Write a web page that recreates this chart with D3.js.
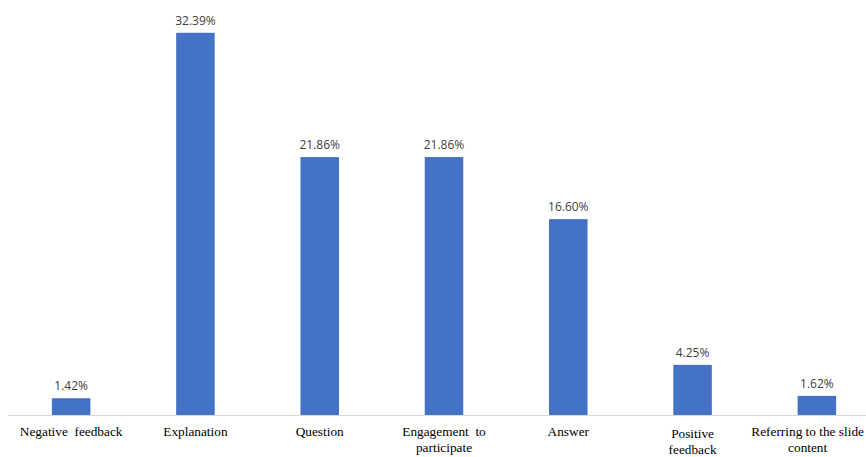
<!DOCTYPE html>
<html>
<head>
<meta charset="utf-8">
<script src="https://cdn.jsdelivr.net/npm/d3@7"></script>
<style>
    body { margin: 0; background: #fff; }
    svg { display: block; }
    .cat { font-family: 'Liberation Serif', 'Times New Roman', serif; }
    .value { font-family: 'Open Sans', sans-serif; }
</style>
</head>
<body>
<script>
"use strict";

var categories = [
    ['Negative  feedback'],
    ['Explanation'],
    ['Question'],
    ['Engagement  to', 'participate'],
    ['Answer'],
    ['Positive', 'feedback'],
    ['Referring to the slide', 'content']
];
var values = [1.42, 32.39, 21.86, 21.86, 16.60, 4.25, 1.62];

var width = 866, height = 457;
var baseline = 415;

var svg = d3.select('body').append('svg')
    .attr('width', width)
    .attr('height', height);

var x = d3.scaleBand()
    .domain(d3.range(categories.length))
    .range([9, 879])
    .paddingInner(0.69)
    .paddingOuter(0.345);

var y = d3.scaleLinear()
    .domain([0, 35])
    .range([baseline, 2]);

// baseline
svg.append('line')
    .attr('x1', 8)
    .attr('x2', width)
    .attr('y1', baseline + 0.5)
    .attr('y2', baseline + 0.5)
    .attr('stroke', '#d9d9d9')
    .attr('stroke-width', 1);

svg.selectAll('rect.bar')
    .data(values)
    .enter()
    .append('rect')
    .attr('class', 'bar')
    .attr('x', function(d, i) { return x(i); })
    .attr('y', function(d) { return y(d); })
    .attr('width', x.bandwidth())
    .attr('height', function(d) { return baseline - y(d); })
    .attr('fill', '#4472c4');

svg.selectAll('text.value')
    .data(values)
    .enter()
    .append('text')
    .attr('class', 'value')
    .attr('x', function(d, i) { return x(i) + x.bandwidth() / 2; })
    .attr('y', function(d) { return y(d) - 8; })
    .attr('text-anchor', 'middle')
    .attr('font-size', 12)
    .attr('fill', '#404040')
    .text(function(d) { return d.toFixed(2) + '%'; });

var labels = svg.selectAll('text.cat')
    .data(categories)
    .enter()
    .append('text')
    .attr('class', 'cat')
    .attr('text-anchor', 'middle')
    .attr('font-size', 13.3)
    .attr('fill', '#000')
    .style('white-space', 'pre');

labels.each(function(lines, i) {
    var t = d3.select(this);
    lines.forEach(function(line, k) {
        t.append('tspan')
            .attr('x', 0)
            .attr('dy', k === 0 ? 0 : 16)
            .text(line);
    });
    // keep the label inside the picture, like the source does with the last one
    var cx = x(i) + x.bandwidth() / 2;
    var w = this.getBBox().width;
    if (cx + w / 2 > width - 2) {
        cx = width - 2 - w / 2;
    }
    // "Positive feedback" sits a little lower in the source
    var ty = (i === 5) ? 438 : (lines.length > 1 ? 435.5 : 436);
    t.attr('transform', 'translate(' + cx + ',' + ty + ')');
});
</script>
</body>
</html>
